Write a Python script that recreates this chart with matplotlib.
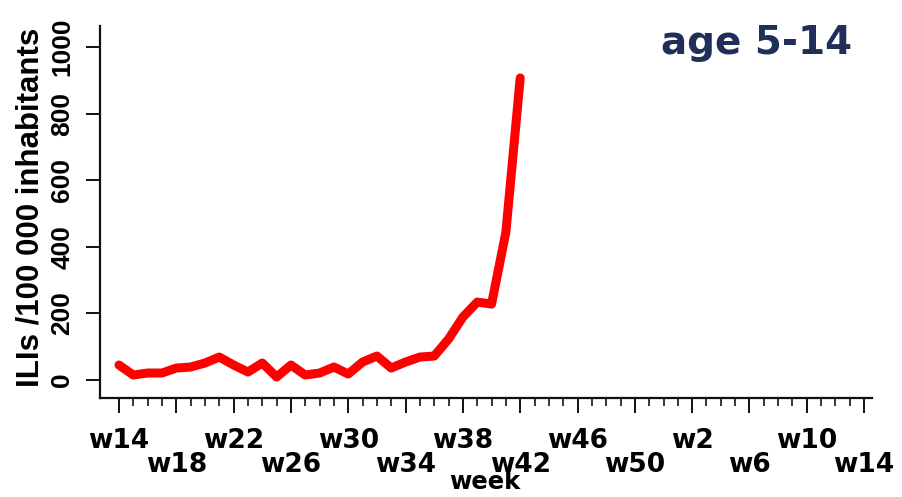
import matplotlib
matplotlib.use("Agg")
import matplotlib.pyplot as plt
import numpy as np

# ---- data ----
week_numbers = list(range(14, 53)) + list(range(1, 15))   # w14 .. w52, w1 .. w14
ili_values = [45, 15, 21, 21, 36, 39, 51, 69, 45, 24, 51, 9, 45, 15, 21,
              39, 18, 54, 72, 36, 54, 69, 72, 123, 189, 234, 228, 444, 907]
y_ticks = [0, 200, 400, 600, 800, 1000]
title_text = "age 5-14"
y_label = "ILIs /100 000 inhabitants"
x_label = "week"

x_pos = np.arange(len(week_numbers))
fig = plt.figure(figsize=(9.02, 4.97), dpi=100)
ax = fig.add_axes([99.5 / 902, 1 - 398 / 497, (872 - 99.5) / 902, (398 - 26) / 497])

ax.plot(x_pos[:len(ili_values)], ili_values, color="#ff0000", lw=6.5,
        solid_capstyle="round", solid_joinstyle="round")

ax.set_xlim(-1.36, 52.55)
ax.set_ylim(-54, 1063)

for s in ["top", "right"]:
    ax.spines[s].set_visible(False)
for s in ["left", "bottom"]:
    ax.spines[s].set_linewidth(1.6)
    ax.spines[s].set_color("#111111")

# y axis
ax.set_yticks(y_ticks)
ax.set_yticklabels([str(v) for v in y_ticks], rotation=90, va="center",
                   fontfamily="Liberation Sans", fontweight="bold", fontsize=19)
ax.tick_params(axis="y", length=10, width=1.4, pad=8, color="#111111")

# x axis ticks
major = x_pos[::4]
ax.set_xticks(major)
ax.set_xticklabels([""] * len(major))
ax.set_xticks(x_pos, minor=True)
ax.tick_params(axis="x", which="major", length=11, width=1.4, color="#111111")
ax.tick_params(axis="x", which="minor", length=5.5, width=1.2, color="#111111")

# two-row week labels
trans = matplotlib.transforms.blended_transform_factory(ax.transData, ax.transAxes)
for i, xp in enumerate(major):
    lab = "w%d" % week_numbers[xp]
    yy = -0.116 if i % 2 == 0 else -0.180
    ax.text(xp, yy, lab, transform=trans, ha="center", va="center",
            fontfamily="DejaVu Sans", fontweight="bold", fontsize=19)

fig.text(485 / 902, 1 - 482 / 497, x_label,
         ha="center", va="center", fontfamily="DejaVu Sans", fontweight="bold",
         fontsize=17.5)

fig.text(31 / 902, 1 - 207 / 497, y_label, rotation=90, ha="center", va="center",
         fontfamily="Liberation Sans", fontweight="bold", fontsize=22.5)

fig.text(757 / 902, 1 - 54 / 497, title_text, ha="center", va="baseline",
         fontfamily="DejaVu Sans", fontweight="bold", fontsize=28, color="#1f2f5a")

fig.savefig("out.png", dpi=100)
